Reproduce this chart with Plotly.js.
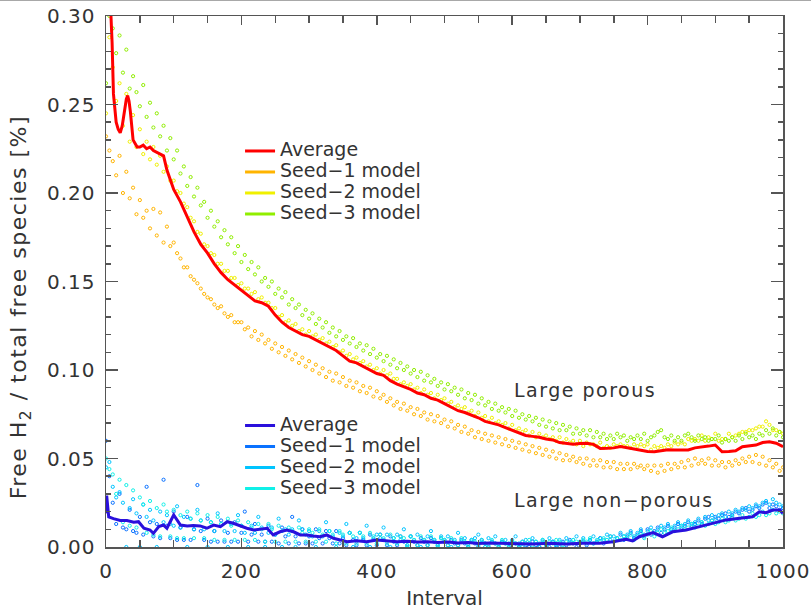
<!DOCTYPE html>
<html>
<head>
<meta charset="utf-8">
<script src="https://cdn.plot.ly/plotly-3.0.1.min.js"></script>
<style>
  html, body { margin: 0; padding: 0; background: #fff; }
  #topline { position: absolute; left: 0; top: 0; width: 811px; height: 1px; background: #a8a8a8; z-index: 5; }
  #chart { position: absolute; left: 0; top: 0; width: 811px; height: 610px; }
  .xtick text, .ytick text { letter-spacing: 1px; }
  .annotation-text { letter-spacing: 1.5px; }
  .legendtext, .legend2text, g[class^="legend"] text { font-size: 19px !important; }
</style>
</head>
<body>
<div id="topline"></div>
<div id="chart"></div>
<script>
// ---------- Data ----------
const seedIntervals = [
  0,5,10,15,20,25,30,35,40,45,50,55,60,65,70,75,80,85,90,95,
  100,105,110,115,120,125,130,135,140,145,150,155,160,165,170,175,180,185,190,195,
  200,205,210,215,220,225,230,235,240,245,250,255,260,265,270,275,280,285,290,295,
  300,305,310,315,320,325,330,335,340,345,350,355,360,365,370,375,380,385,390,395,
  400,405,410,415,420,425,430,435,440,445,450,455,460,465,470,475,480,485,490,495,
  500,505,510,515,520,525,530,535,540,545,550,555,560,565,570,575,580,585,590,595,
  600,605,610,615,620,625,630,635,640,645,650,655,660,665,670,675,680,685,690,695,
  700,705,710,715,720,725,730,735,740,745,750,755,760,765,770,775,780,785,790,795,
  800,805,810,815,820,825,830,835,840,845,850,855,860,865,870,875,880,885,890,895,
  900,905,910,915,920,925,930,935,940,945,950,955,960,965,970,975,980,985,990,995,
  1000];

// Large porous grains
const porousSeed1 = [
  .232,.224,.218,.210,.221,.200,.212,.197,.203,.188,.196,.186,.190,.180,.191,.176,.189,.172,.181,.170,
  .172,.166,.163,.158,.158,.153,.151,.149,.146,.143,.141,.140,.137,.135,.136,.132,.130,.131,.127,.127,
  .127,.123,.124,.119,.122,.117,.120,.115,.117,.112,.115,.110,.113,.108,.111,.106,.109,.104,.107,.102,
  .105,.100,.103,.098,.101,.096,.099,.094,.098,.093,.096,.091,.094,.090,.093,.088,.091,.087,.090,.085,
  .088,.084,.086,.082,.084,.080,.082,.078,.081,.077,.079,.075,.078,.074,.076,.072,.075,.071,.074,.070,
  .072,.068,.071,.067,.069,.065,.068,.064,.066,.062,.065,.061,.064,.060,.063,.059,.062,.058,.061,.057,
  .060,.056,.059,.055,.058,.054,.057,.053,.056,.052,.055,.051,.054,.050,.053,.049,.052,.049,.051,.048,
  .050,.047,.050,.046,.049,.046,.049,.045,.048,.045,.048,.044,.047,.044,.047,.044,.047,.045,.046,.044,
  .046,.043,.046,.042,.046,.043,.047,.044,.047,.045,.048,.045,.049,.046,.050,.047,.049,.047,.050,.046,
  .049,.046,.048,.045,.048,.046,.049,.047,.050,.048,.051,.048,.052,.047,.051,.046,.049,.045,.047,.043,
  .045];
const porousSeed2 = [
  .245,.288,.271,.252,.262,.238,.256,.229,.244,.226,.236,.222,.229,.219,.226,.216,.221,.212,.215,.207,
  .207,.201,.200,.194,.192,.186,.184,.178,.177,.171,.170,.166,.165,.160,.160,.156,.156,.152,.152,.148,
  .149,.146,.146,.143,.144,.140,.141,.138,.138,.135,.135,.130,.131,.127,.128,.125,.126,.122,.123,.120,
  .122,.119,.120,.117,.118,.115,.116,.113,.114,.110,.111,.108,.109,.106,.107,.104,.105,.102,.103,.100,
  .101,.098,.100,.097,.098,.095,.095,.092,.093,.091,.092,.089,.090,.087,.089,.086,.087,.084,.086,.083,
  .084,.081,.082,.079,.080,.078,.079,.076,.077,.074,.076,.073,.074,.071,.073,.070,.071,.069,.070,.067,
  .069,.066,.067,.065,.066,.063,.065,.062,.064,.062,.063,.061,.062,.060,.062,.059,.061,.059,.060,.058,
  .060,.057,.059,.058,.058,.057,.059,.056,.057,.056,.058,.057,.058,.057,.057,.056,.058,.057,.058,.057,
  .058,.055,.057,.056,.057,.056,.058,.057,.059,.058,.059,.058,.061,.060,.061,.060,.063,.060,.062,.061,
  .064,.060,.061,.061,.064,.062,.063,.064,.065,.065,.066,.066,.067,.068,.068,.071,.069,.066,.066,.065,
  .064];
const porousSeed3 = [
  .262,.300,.293,.279,.289,.268,.281,.259,.266,.257,.249,.261,.243,.251,.237,.245,.232,.238,.224,.231,
  .219,.224,.211,.215,.204,.209,.198,.203,.193,.195,.186,.190,.181,.184,.175,.179,.171,.175,.166,.170,
  .161,.165,.157,.161,.154,.158,.150,.152,.147,.150,.143,.146,.141,.144,.137,.140,.135,.137,.131,.134,
  .129,.132,.126,.129,.124,.127,.121,.124,.119,.122,.117,.119,.115,.118,.113,.115,.111,.114,.109,.112,
  .107,.109,.105,.108,.103,.106,.101,.104,.100,.102,.098,.100,.096,.099,.094,.097,.093,.095,.091,.093,
  .089,.092,.088,.090,.086,.089,.084,.087,.083,.086,.081,.084,.080,.082,.078,.081,.077,.079,.076,.078,
  .074,.077,.073,.075,.072,.074,.071,.073,.069,.072,.068,.071,.067,.070,.066,.069,.066,.068,.064,.067,
  .064,.066,.063,.066,.062,.065,.062,.064,.061,.063,.061,.064,.062,.063,.060,.062,.061,.063,.061,.064,
  .060,.062,.063,.065,.066,.062,.061,.063,.060,.062,.060,.063,.064,.062,.060,.063,.061,.062,.060,.061,
  .061,.063,.059,.061,.060,.062,.060,.063,.061,.064,.062,.063,.061,.064,.063,.066,.064,.067,.063,.065,
  .062];
const porousAvgX = [1,3,5,7,9,11,13,15,18,21,24,27,30,32,34,36,38,40,43,46,50,55,60,65,70,75,80,85,90,95,
  100,110,120,130,140,150,160,170,180,190,200,210,220,230,240,250,260,270,280,290,
  300,310,320,330,340,350,360,370,380,390,400,410,420,430,440,450,460,470,480,490,
  500,510,520,530,540,550,560,570,580,590,600,610,620,630,640,650,660,670,680,690,
  700,710,720,730,740,750,760,770,780,790,800,810,820,830,840,850,860,870,880,890,
  900,910,920,930,940,950,960,970,980,990,1000];
const porousAvgY = [.340,.330,.316,.303,.285,.256,.247,.240,.236,.234,.238,.246,.253,.255,.252,.246,.237,.230,.228,.226,
  .226,.227,.225,.226,.224,.223,.222,.221,.213,.207,
  .202,.195,.186,.178,.171,.166,.160,.155,.151,.148,.145,.142,.139,.138,.136,.131,.127,.124,.122,.120,
  .119,.117,.115,.113,.111,.108,.105,.104,.102,.100,.098,.097,.094,.092,.0905,.089,.087,.086,.084,.083,
  .081,.079,.077,.076,.0745,.073,.071,.070,.069,.0675,.066,.0645,.063,.0625,.062,.061,.0605,.059,.0585,.058,
  .0585,.0586,.058,.0557,.0558,.056,.0567,.056,.055,.0545,.054,.0538,.0545,.055,.0548,.055,.0548,.056,.0567,.057,
  .0576,.0538,.054,.0544,.0567,.057,.0576,.059,.0595,.0586,.0567];

// Large non-porous grains
const nonporousSeed1 = [
  .060,.040,.025,.013,.030,.011,.010,.021,.009,.008,.017,.007,.034,.014,.006,.013,.005,.038,.012,.005,
  .020,.004,.011,.004,.017,.004,.010,.035,.009,.004,.016,.003,.009,.003,.015,.003,.008,.003,.014,.003,
  .008,.020,.003,.007,.013,.003,.007,.003,.012,.003,.007,.002,.011,.006,.002,.017,.006,.002,.010,.002,
  .006,.002,.010,.005,.002,.009,.005,.002,.009,.002,.005,.001,.008,.004,.001,.008,.004,.001,.007,.004,
  .001,.007,.004,.001,.006,.003,.001,.006,.003,.001,.006,.003,.001,.005,.003,.001,.005,.003,.001,.005,
  .003,.001,.004,.002,.001,.004,.002,.000,.004,.002,.000,.004,.002,.000,.003,.002,.000,.003,.002,.000,
  .003,.002,.000,.003,.001,.000,.003,.001,.000,.003,.001,.000,.003,.001,.000,.003,.001,.004,.002,.000,
  .002,.003,.001,.004,.002,.003,.005,.002,.004,.006,.003,.005,.007,.004,.006,.008,.005,.007,.009,.006,
  .010,.007,.009,.011,.008,.010,.012,.010,.011,.013,.011,.012,.014,.012,.013,.015,.013,.016,.017,.015,
  .017,.016,.018,.019,.017,.018,.020,.019,.021,.022,.020,.021,.023,.022,.024,.025,.022,.024,.023,.021,
  .022];
const nonporousSeed2 = [
  .045,.048,.034,.028,.031,.025,.000,.022,.027,.019,.000,.024,.017,.021,.015,.000,.020,.014,.018,.013,
  .012,.023,.011,.017,.000,.016,.010,.021,.015,.010,.000,.014,.009,.019,.013,.009,.000,.013,.009,.018,
  .012,.008,.000,.012,.008,.017,.011,.000,.008,.011,.007,.016,.000,.010,.007,.010,.000,.015,.010,.007,
  .009,.006,.000,.009,.006,.014,.009,.006,.000,.008,.006,.013,.008,.000,.005,.008,.005,.012,.000,.005,
  .007,.005,.011,.007,.000,.005,.007,.004,.010,.000,.006,.004,.007,.000,.004,.006,.009,.004,.000,.006,
  .004,.006,.000,.004,.008,.003,.005,.000,.003,.005,.007,.003,.000,.005,.003,.006,.000,.003,.004,.002,
  .004,.006,.002,.000,.004,.002,.005,.003,.000,.004,.002,.005,.003,.000,.004,.002,.005,.003,.004,.006,
  .003,.005,.002,.004,.006,.003,.005,.004,.007,.004,.006,.005,.008,.006,.007,.009,.006,.008,.010,.007,
  .009,.011,.008,.010,.012,.011,.013,.010,.012,.014,.012,.013,.015,.013,.014,.016,.014,.017,.015,.018,
  .016,.018,.019,.017,.020,.019,.021,.020,.022,.021,.023,.022,.024,.023,.025,.026,.024,.027,.025,.024,
  .023];
const nonporousSeed3 = [
  .050,.044,.041,.030,.038,.014,.035,.012,.032,.011,.028,.024,.008,.026,.007,.022,.006,.024,.020,.006,
  .021,.005,.018,.005,.020,.016,.005,.019,.015,.005,.018,.014,.004,.017,.013,.004,.016,.012,.004,.015,
  .012,.004,.014,.011,.004,.013,.010,.003,.013,.010,.003,.012,.009,.003,.011,.009,.003,.011,.008,.003,
  .010,.008,.003,.010,.007,.003,.009,.007,.002,.009,.007,.002,.008,.006,.002,.008,.006,.002,.008,.006,
  .002,.007,.005,.002,.007,.005,.002,.006,.005,.001,.006,.004,.001,.006,.004,.001,.006,.004,.001,.005,
  .004,.001,.005,.003,.001,.005,.003,.001,.004,.003,.001,.004,.002,.001,.004,.002,.001,.004,.002,.001,
  .003,.002,.001,.003,.002,.004,.001,.003,.002,.004,.001,.003,.002,.004,.003,.001,.003,.002,.004,.003,
  .002,.004,.003,.005,.002,.004,.003,.005,.004,.006,.003,.005,.004,.006,.005,.007,.004,.006,.008,.005,
  .007,.009,.006,.008,.010,.008,.009,.011,.009,.010,.012,.010,.011,.013,.011,.012,.014,.012,.013,.015,
  .013,.014,.016,.014,.015,.017,.015,.016,.018,.016,.017,.019,.017,.018,.020,.018,.019,.021,.019,.020,
  .019];
const nonporousAvgX = [0,1,2,4,11,21,31,41,48,56,65,70,78,85,90,100,110,120,129,139,149,159,169,179,188,198,208,218,228,238,
  247,257,267,277,287,297,306,316,326,336,346,356,370,385,400,415,430,445,460,475,490,505,520,535,550,565,582,606,631,655,
  680,704,729,749,768,778,788,808,822,837,857,877,896,916,936,955,965,975,985,995,1000];
const nonporousAvgY = [.019,.029,.025,.017,.016,.015,.015,.014,.0143,.0106,.0096,.0077,.0115,.0124,.0106,.0181,.0124,.0119,.0121,.0119,
  .0106,.0124,.0115,.0143,.0134,.0119,.0106,.0096,.0099,.0106,.0068,.0086,.0096,.0086,.0068,.0068,.0062,.0058,.0068,.0049,
  .004,.003,.0035,.003,.004,.0035,.003,.0033,.0028,.003,.0025,.0028,.0022,.0025,.002,.0022,.0021,.0017,.0017,.0021,
  .0017,.0021,.0021,.003,.0044,.0034,.0058,.0081,.0058,.0086,.0096,.0115,.0134,.0153,.0162,.0171,.0199,.0194,.0209,.0209,.019];

const legendLabels = ['Average', 'Seed\u22121 model', 'Seed\u22122 model', 'Seed\u22123 model'];
const groupLabels = ['Large porous', 'Large non\u2212porous'];
const axisTitles = { x: 'Interval', y: 'Free H<sub>2</sub> / total free species [%]' };

// ---------- Styles ----------
const porousColors = ['#ff0000', '#ffb400', '#f0f000', '#90ee00'];
const nonporousColors = ['#2a10dc', '#0a72ff', '#00c4ff', '#10f0e8'];
const FONT = 'DejaVu Sans, sans-serif';
const TXT = '#333333';
const AX = '#555555';

function seedTrace(y, color) {
  return { x: seedIntervals, y: y, type: 'scatter', mode: 'markers', showlegend: false,
    marker: { symbol: 'circle-open', size: 3.2, color: color, line: { width: 1, color: color } },
    hoverinfo: 'x+y' };
}
function legendOnly(name, color, legend) {
  return { x: [null], y: [null], type: 'scatter', mode: 'lines', name: name, legend: legend,
    line: { color: color, width: 3 }, hoverinfo: 'skip' };
}

const traces = [
  seedTrace(porousSeed1, porousColors[1]),
  seedTrace(porousSeed2, porousColors[2]),
  seedTrace(porousSeed3, porousColors[3]),
  seedTrace(nonporousSeed1, nonporousColors[1]),
  seedTrace(nonporousSeed2, nonporousColors[2]),
  seedTrace(nonporousSeed3, nonporousColors[3]),
  { x: porousAvgX, y: porousAvgY, type: 'scatter', mode: 'lines', name: legendLabels[0], legend: 'legend',
    line: { color: porousColors[0], width: 3 } },
  legendOnly(legendLabels[1], porousColors[1], 'legend'),
  legendOnly(legendLabels[2], porousColors[2], 'legend'),
  legendOnly(legendLabels[3], porousColors[3], 'legend'),
  { x: nonporousAvgX, y: nonporousAvgY, type: 'scatter', mode: 'lines', name: legendLabels[0], legend: 'legend2',
    line: { color: nonporousColors[0], width: 3 } },
  legendOnly(legendLabels[1], nonporousColors[1], 'legend2'),
  legendOnly(legendLabels[2], nonporousColors[2], 'legend2'),
  legendOnly(legendLabels[3], nonporousColors[3], 'legend2')
];

const legendStyle = { xanchor: 'left', yanchor: 'top', bgcolor: 'rgba(0,0,0,0)', borderwidth: 0,
  font: { family: FONT, size: 13.85, color: TXT }, traceorder: 'normal', itemclick: false, itemdoubleclick: false };

const layout = {
  width: 811, height: 610,
  margin: { l: 106, r: 28, t: 16, b: 63 },
  paper_bgcolor: '#ffffff', plot_bgcolor: '#ffffff',
  font: { family: FONT, size: 20, color: TXT },
  showlegend: true,
  legend: Object.assign({ x: 0.198, y: 0.775 }, legendStyle),
  legend2: Object.assign({ x: 0.198, y: 0.258 }, legendStyle),
  xaxis: {
    range: [0, 1000], showgrid: false, zeroline: false,
    showline: true, linecolor: AX, linewidth: 1.5, mirror: 'allticks',
    ticks: 'inside', ticklen: 9, tickwidth: 1.5, tickcolor: AX,
    dtick: 200, tick0: 0, ticklabelstandoff: 5,
    minor: { dtick: 50, ticks: 'inside', ticklen: 7, tickwidth: 1.5, tickcolor: AX, showgrid: false },
    tickfont: { family: FONT, size: 20, color: TXT },
    title: { text: axisTitles.x, font: { family: FONT, size: 20, color: TXT }, standoff: 12 }
  },
  yaxis: {
    range: [0, 0.30], showgrid: false, zeroline: false,
    showline: true, linecolor: AX, linewidth: 1.5, mirror: 'allticks',
    ticks: 'inside', ticklen: 12, tickwidth: 1.5, tickcolor: AX,
    dtick: 0.05, tick0: 0, tickformat: '.2f', ticklabelstandoff: 5,
    minor: { dtick: 0.01, ticks: 'inside', ticklen: 5, tickwidth: 1.5, tickcolor: AX, showgrid: false },
    tickfont: { family: FONT, size: 20, color: TXT }
  },
  annotations: [
    { xref: 'x', yref: 'y', x: 600, y: 0.0885, text: groupLabels[0], showarrow: false,
      xanchor: 'left', yanchor: 'middle', font: { family: FONT, size: 19, color: TXT } },
    { xref: 'x', yref: 'y', x: 600, y: 0.0268, text: groupLabels[1], showarrow: false,
      xanchor: 'left', yanchor: 'middle', font: { family: FONT, size: 19, color: TXT } },
    { xref: 'paper', yref: 'paper', x: -0.125, y: 0.452, text: axisTitles.y, showarrow: false, textangle: -90,
      xanchor: 'center', yanchor: 'middle', font: { family: FONT, size: 22, color: TXT } }
  ]
};

Plotly.newPlot('chart', traces, layout, { displayModeBar: false, staticPlot: true }).then(function () {
  // Legend rows are spaced for a small font; draw the entry labels at the reference size.
  document.querySelectorAll('g[class^="legend"]').forEach(function (g) {
    g.querySelectorAll('text').forEach(function (t) { t.style.setProperty('font-size', '19px', 'important'); });
    g.querySelectorAll('[clip-path]').forEach(function (e) { e.removeAttribute('clip-path'); });
  });
});
</script>
</body>
</html>
